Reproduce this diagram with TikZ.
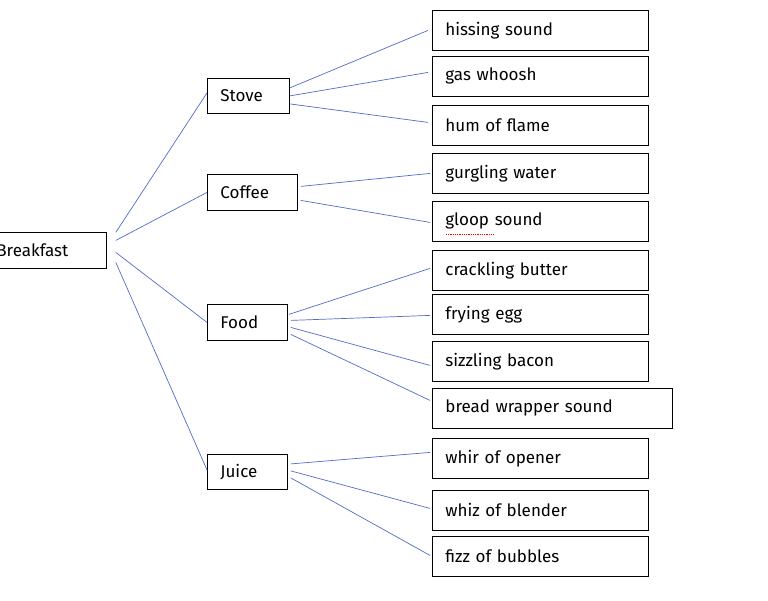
\documentclass[tikz,border=0pt]{standalone}
\usepackage{fontspec}
\setmainfont{Fira Sans}
\begin{document}
\begin{tikzpicture}[x=1pt,y=-1pt,
  bx/.style={draw,line width=0.8pt,anchor=north west,inner sep=0pt,align=left,font=\fontsize{17}{19}\selectfont},
  ln/.style={draw={rgb,255:red,80;green,110;blue,200},line width=0.7pt}]
\useasboundingbox[fill=white] (0,0) rectangle (768,600);
\newcommand{\bxx}[6]{\node[bx,minimum width=#4-#2,minimum height=#5-#3,text width=#4-#2-14] (#1) at (#2,#3) {\hspace*{6pt}#6};}
\node[bx,minimum width=108,minimum height=36,text width=104] (br) at (-2,232) {\hspace*{-4pt}Breakfast};
\bxx{st}{207}{78}{289}{113}{Stove}
\bxx{co}{207}{174}{297}{210}{Coffee}
\bxx{fo}{207}{304}{287}{340}{Food}
\bxx{ju}{207}{454}{287}{489}{Juice}
\bxx{a1}{432}{10}{648}{50}{hissing sound}
\bxx{a2}{432}{56}{648}{96}{gas whoosh}
\bxx{a3}{432}{105}{648}{145}{hum of flame}
\bxx{b1}{432}{153}{648}{193}{gurgling water}
\bxx{b2}{432}{201}{648}{241}{gloop sound}
\bxx{c1}{432}{250}{648}{290}{crackling butter}
\bxx{c2}{432}{294}{648}{334}{frying egg}
\bxx{c3}{432}{341}{648}{381}{sizzling bacon}
\bxx{c4}{432}{388}{672}{428}{bread wrapper sound}
\bxx{d1}{432}{438}{648}{478}{whir of opener}
\bxx{d2}{432}{490}{648}{530}{whiz of blender}
\bxx{d3}{432}{536}{648}{576}{fizz of bubbles}
\draw[red,densely dotted,line width=0.8pt] (446,234) -- (493,234);
% Breakfast to categories
\draw[ln] ([xshift=9pt,yshift=18pt]br.east) -- ([yshift=3pt]st.west);
\draw[ln] ([xshift=9pt,yshift=10pt]br.east) -- ([yshift=0pt]co.west);
\draw[ln] ([xshift=9pt,yshift=-2pt]br.east) -- ([yshift=0pt]fo.west);
\draw[ln] ([xshift=9pt,yshift=-12pt]br.east) -- ([yshift=2pt]ju.west);
% Stove
\draw[ln] ([yshift=8pt]st.east) -- ([xshift=-4pt]a1.west);
\draw[ln] ([yshift=0pt]st.east) -- ([xshift=-4pt,yshift=4pt]a2.west);
\draw[ln] ([yshift=-8pt]st.east) -- ([xshift=-4pt,yshift=3pt]a3.west);
% Coffee
\draw[ln] ([xshift=3pt,yshift=6pt]co.east) -- ([xshift=-2pt]b1.west);
\draw[ln] ([xshift=3pt,yshift=-8pt]co.east) -- ([xshift=-2pt,yshift=-1pt]b2.west);
% Food
\draw[ln] ([xshift=1pt,yshift=8pt]fo.east) -- ([xshift=-2pt,yshift=2pt]c1.west);
\draw[ln] ([xshift=3pt,yshift=2pt]fo.east) -- ([xshift=-2pt,yshift=-1pt]c2.west);
\draw[ln] ([xshift=3pt,yshift=-5pt]fo.east) -- ([xshift=-2pt,yshift=-4pt]c3.west);
\draw[ln] ([xshift=3pt,yshift=-12pt]fo.east) -- ([xshift=-2pt,yshift=8pt]c4.west);
% Juice
\draw[ln] ([xshift=3pt,yshift=8pt]ju.east) -- ([xshift=-2pt,yshift=6pt]d1.west);
\draw[ln] ([xshift=3pt,yshift=1pt]ju.east) -- ([xshift=-2pt,yshift=2pt]d2.west);
\draw[ln] ([xshift=3pt,yshift=-6pt]ju.east) -- ([xshift=-2pt,yshift=1pt]d3.west);
\end{tikzpicture}
\end{document}
